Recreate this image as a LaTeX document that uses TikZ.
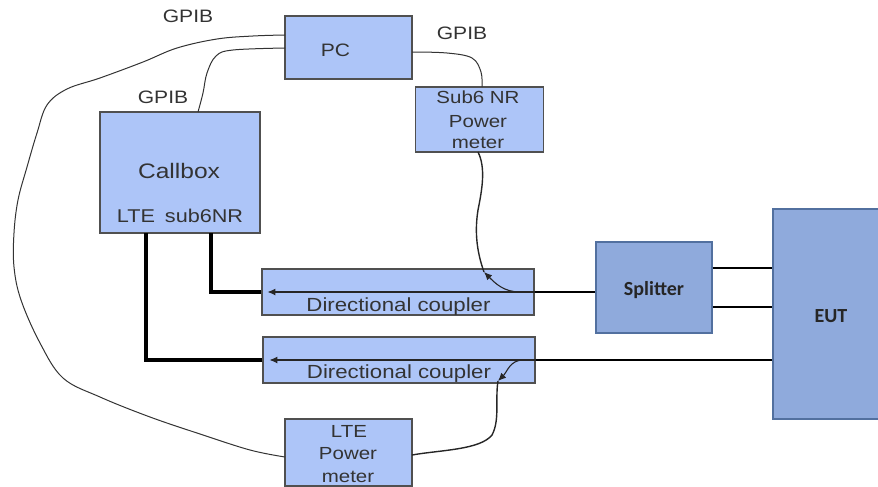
\documentclass[tikz,border=0pt]{standalone}
\usepackage{fontspec}
\newfontfamily\arw[FakeStretch=1.17]{Liberation Sans}
\newfontfamily\cbr{Carlito}
\usetikzlibrary{arrows.meta}
\definecolor{lb}{HTML}{ADC5F8}
\definecolor{lbd}{HTML}{505050}
\definecolor{db}{HTML}{8FAADC}
\definecolor{dbd}{HTML}{52709F}
\definecolor{txt}{HTML}{333333}
\tikzset{
  lbox/.style={draw=lbd,fill=lb,line width=1.1pt,inner sep=0pt},
  dbox/.style={draw=dbd,fill=db,line width=1.1pt,inner sep=0pt},
  lbl/.style={inner sep=0pt,anchor=base,text=txt,font=\arw\fontsize{18}{21}\selectfont},
  dlbl/.style={inner sep=0pt,anchor=base,text=black!85,font=\cbr\bfseries\fontsize{20}{24}\selectfont},
  gpib/.style={draw=black!80,line width=1pt},
  sig/.style={draw=black,line width=1.8pt},
  insig/.style={draw=black!85,line width=1.1pt},
  thickw/.style={draw=black,line width=4pt},
  tip/.style={-{Latex[length=8pt,width=7pt]}}
}
\begin{document}
\begin{tikzpicture}[x=1pt,y=1pt]
\useasboundingbox (0,0) rectangle (878,-487);
% boxes
\node[lbox,minimum width=127pt,minimum height=63pt] (pc) at (348.5,-47.5) {};
\node[lbox,minimum width=128pt,minimum height=65pt] (m6) at (479.5,-119.5) {};
\node[lbox,minimum width=160pt,minimum height=121pt] (cb) at (180,-172.5) {};
\node[lbox,minimum width=272pt,minimum height=46pt] (c1) at (398,-292) {};
\node[lbox,minimum width=272pt,minimum height=46pt] (c2) at (399,-360) {};
\node[lbox,minimum width=127pt,minimum height=67pt] (lm) at (348.5,-452.5) {};
\node[dbox,minimum width=116pt,minimum height=91pt] (sp) at (654,-287.5) {};
\node[dbox,minimum width=140pt,minimum height=210pt] (eut) at (843,-314) {};
% texts
\node[lbl] (g1) at (188,-23) {GPIB};
\node[lbl] (g2) at (163,-103) {GPIB};
\node[lbl] (g3) at (462,-40) {GPIB};
\node[lbl] (pct) at (335.5,-57) {PC};
\node[lbl,font=\arw\fontsize{17.5}{21}\selectfont] (m6a) at (478,-103) {Sub6 NR};
\node[lbl,font=\arw\fontsize{17.5}{21}\selectfont] (m6b) at (478,-127) {Power};
\node[lbl,font=\arw\fontsize{17.5}{21}\selectfont] (m6c) at (478,-148) {meter};
\node[lbl,font=\arw\fontsize{21}{24}\selectfont] (cbt) at (179,-178) {Callbox};
\node[lbl,font=\arw\fontsize{18.5}{22}\selectfont] (cbp) at (180,-222) {LTE\hspace{10pt}sub6NR};
\node[lbl,font=\arw\fontsize{19}{22}\selectfont] (c1t) at (398.5,-311) {Directional coupler};
\node[lbl,font=\arw\fontsize{19}{22}\selectfont] (c2t) at (399,-378) {Directional coupler};
\node[lbl,font=\arw\fontsize{17.5}{21}\selectfont] (lma) at (349,-437) {LTE};
\node[lbl,font=\arw\fontsize{17.5}{21}\selectfont] (lmb) at (348,-459) {Power};
\node[lbl,font=\arw\fontsize{17.5}{21}\selectfont] (lmc) at (348,-482) {meter};
\node[dlbl] (spt) at (654,-295) {Splitter};
\node[dlbl] (eutt) at (831,-322) {EUT};
% coordinates
\coordinate (p6) at (211,-233);
\coordinate (pl) at (146,-233);
\coordinate (k1) at (520,-292);
\coordinate (a1) at (484,-272);
\coordinate (k2) at (523,-360);
\coordinate (a2) at (498,-381);
\coordinate (m6s) at (478,-152);
\coordinate (lme) at (412,-455);
\coordinate (g1s) at (285,-35);
\coordinate (g1e) at (285,-457);
\coordinate (g2s) at (285,-48);
\coordinate (g2e) at (198,-112);
\coordinate (g3s) at (412,-52);
\coordinate (g3e) at (482,-87);
% signal lines
\draw[sig] (sp.west |- c1.center) -- (c1.east);
\draw[insig,tip] (c1.east) -- ([xshift=6pt]c1.west);
\draw[thickw] (c1.west) -| (p6);
\draw[sig] (sp.east |- 0,-268) -- (eut.west |- 0,-268);
\draw[sig] (sp.east |- 0,-307) -- (eut.west |- 0,-307);
\draw[sig] (eut.west |- c2.center) -- (c2.east);
\draw[insig,tip] (c2.east) -- ([xshift=7pt]c2.west);
\draw[thickw] (c2.west) -| (pl);
% couplings
\draw[insig,tip] (k1) to[out=180,in=-45] (a1);
\draw[insig,line width=1.4pt] (m6s) .. controls (486,-168) and (482,-190) .. (478,-210)
   .. controls (474,-235) and (478,-255) .. (a1);
\draw[insig,tip] (k2) to[out=180,in=45] (a2);
\draw[insig,line width=1.4pt] (a2) .. controls (495,-400) and (500,-420) .. (492,-435)
   .. controls (480,-450) and (440,-450) .. (lme);
% GPIB wires
\draw[gpib] plot[smooth,tension=0.6] coordinates {(g1s) (253,-36) (217,-39) (177,-48) (143,-62) (100,-78) (67,-89) (47,-105) (37,-133) (27,-167) (18,-200) (14,-233) (14,-267) (21,-300) (40,-343) (63,-378) (100,-397) (150,-417) (200,-434) (250,-450) (g1e)};
\draw[gpib] plot[smooth,tension=0.6] coordinates {(g2s) (233,-50) (216,-56) (207,-73) (203,-93) (g2e)};
\draw[gpib] plot[smooth,tension=0.6] coordinates {(g3s) (447,-53) (472,-58) (481,-72) (g3e)};
\end{tikzpicture}
\end{document}
